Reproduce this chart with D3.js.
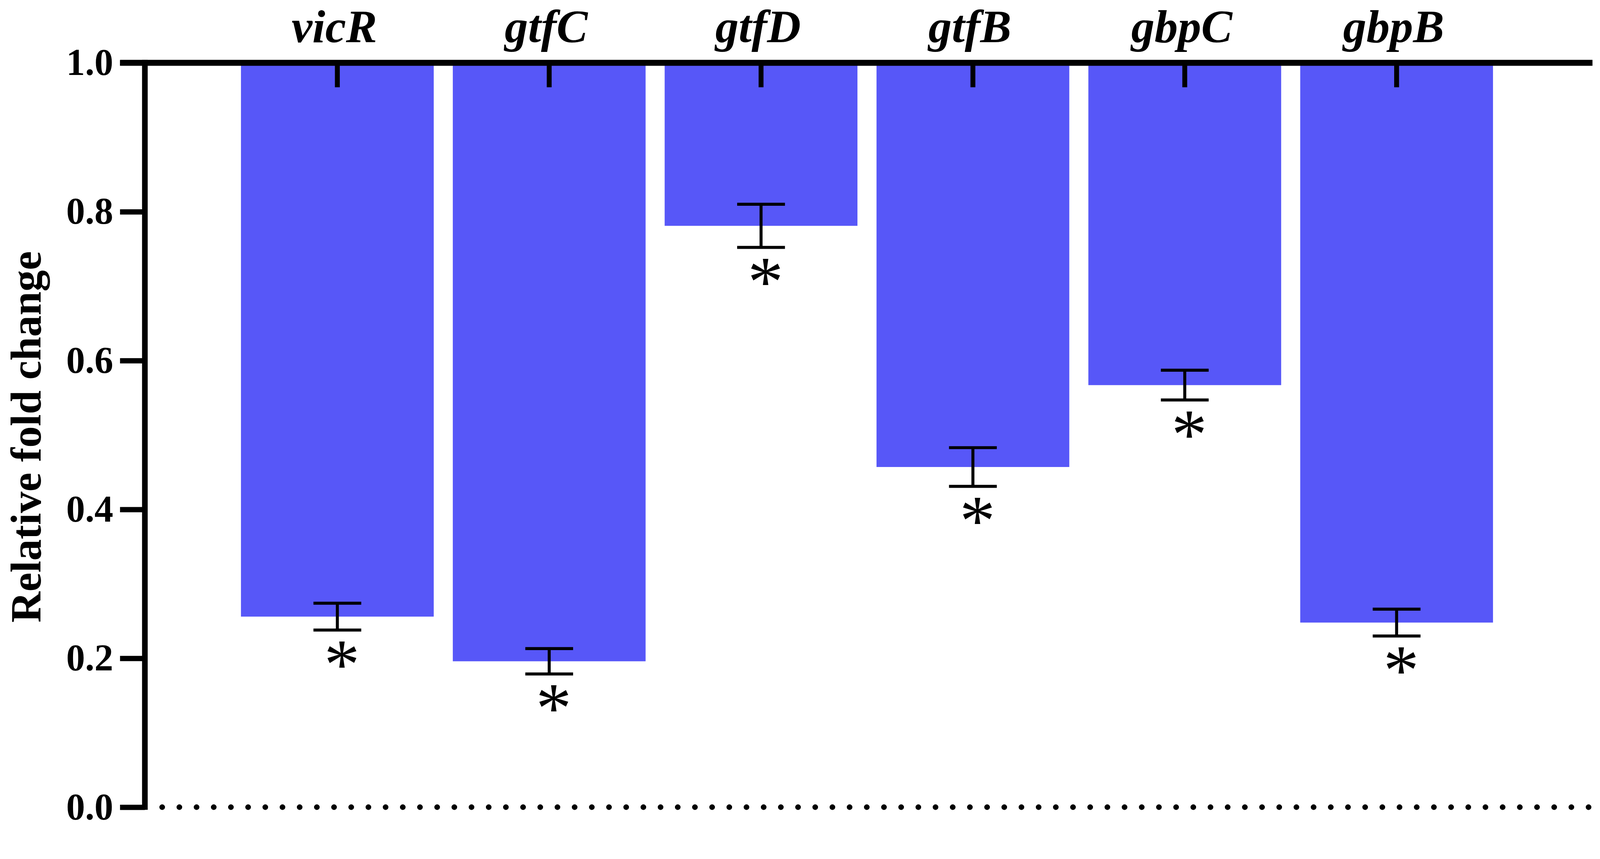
<!DOCTYPE html>
<html>
<head>
<meta charset="utf-8">
<script src="https://cdn.jsdelivr.net/npm/d3@7"></script>
<style>
  html, body { margin: 0; padding: 0; background: #fff; overflow: hidden; }
  svg { display: block; width: 100vw; height: 100vh; }
</style>
</head>
<body>
<script>
// values
const genes = ["vicR", "gtfC", "gtfD", "gtfB", "gbpC", "gbpB"];
const means = [0.256, 0.196, 0.781, 0.457, 0.567, 0.248];
const errs = [0.018, 0.017, 0.029, 0.026, 0.020, 0.018];
const signif = ["*", "*", "*", "*", "*", "*"];
const yTicks = [0.0, 0.2, 0.4, 0.6, 0.8, 1.0];
const yTitle = "Relative fold change";

const width = 4252, height = 2200;
const barColor = "#5757f8";
const serif = "'Liberation Serif', 'Times New Roman', serif";

// drawn in a fixed 4252x2200 box, scaled to the viewport and pinned top-left
const svg = d3.select("body").append("svg")
    .attr("viewBox", `0 0 ${width} ${height}`)
    .attr("preserveAspectRatio", "xMinYMin meet");

const y = d3.scaleLinear().domain([0, 1]).range([2146, 167]);
const x = d3.scaleBand()
    .domain(genes)
    .range([615, 3993])
    .paddingInner(0.09)
    .paddingOuter(0.045);

const axisX = 385;
const data = genes.map((g, i) => ({ gene: g, mean: means[i], err: errs[i], mark: signif[i] }));
const cx = d => x(d.gene) + x.bandwidth() / 2;

// bars hang down from the 1.0 baseline
svg.append("g")
    .selectAll("rect")
    .data(data)
    .join("rect")
    .attr("x", d => x(d.gene))
    .attr("y", y(1))
    .attr("width", x.bandwidth())
    .attr("height", d => y(d.mean) - y(1))
    .attr("fill", barColor);

// dotted line at 0
svg.append("line")
    .attr("x1", axisX + 46)
    .attr("x2", 4222)
    .attr("y1", y(0))
    .attr("y2", y(0))
    .attr("stroke", "#000")
    .attr("stroke-width", 15)
    .attr("stroke-linecap", "round")
    .attr("stroke-dasharray", "0,45.67");

// error bars
const capW = 127;
const eb = svg.append("g").attr("stroke", "#000").attr("stroke-width", 8);
eb.selectAll("line.v")
    .data(data)
    .join("line")
    .attr("class", "v")
    .attr("x1", cx)
    .attr("x2", cx)
    .attr("y1", d => y(d.mean + d.err))
    .attr("y2", d => y(d.mean - d.err));
eb.selectAll("line.top")
    .data(data)
    .join("line")
    .attr("class", "top")
    .attr("x1", d => cx(d) - capW / 2)
    .attr("x2", d => cx(d) + capW / 2)
    .attr("y1", d => y(d.mean + d.err))
    .attr("y2", d => y(d.mean + d.err));
eb.selectAll("line.bot")
    .data(data)
    .join("line")
    .attr("class", "bot")
    .attr("x1", d => cx(d) - capW / 2)
    .attr("x2", d => cx(d) + capW / 2)
    .attr("y1", d => y(d.mean - d.err))
    .attr("y2", d => y(d.mean - d.err));

// significance stars
svg.append("g")
    .selectAll("text")
    .data(data)
    .join("text")
    .attr("x", d => cx(d) + 12)
    .attr("y", d => y(d.mean - d.err) + 155)
    .attr("text-anchor", "middle")
    .style("font-family", serif)
    .style("font-size", "190px")
    .text(d => d.mark);

// y axis
const gy = svg.append("g")
    .attr("transform", `translate(${axisX},0)`)
    .call(d3.axisLeft(y)
        .tickValues(yTicks)
        .tickFormat(d3.format(".1f"))
        .tickSize(66)
        .tickSizeOuter(0)
        .tickPadding(18));
gy.select(".domain").remove();
gy.selectAll(".tick line").attr("stroke", "#000").attr("stroke-width", 14);
gy.selectAll(".tick text")
    .attr("fill", "#000")
    .style("font-family", serif)
    .style("font-weight", "bold")
    .style("font-size", "100px");
gy.append("line")
    .attr("x1", 0).attr("x2", 0)
    .attr("y1", y(1) - 8)
    .attr("y2", y(0) + 7)
    .attr("stroke", "#000")
    .attr("stroke-width", 15);

// x axis along the top (value 1.0), ticks pointing down
const gx = svg.append("g")
    .attr("transform", `translate(0,${y(1)})`)
    .call(d3.axisTop(x)
        .tickSize(-65)
        .tickSizeOuter(0)
        .tickPadding(55));
gx.select(".domain").remove();
gx.selectAll(".tick line").attr("stroke", "#000").attr("stroke-width", 13);
gx.selectAll(".tick text")
    .attr("fill", "#000")
    .attr("dx", -8)
    .style("font-family", serif)
    .style("font-weight", "bold")
    .style("font-style", "italic")
    .style("font-size", "124px");
gx.append("line")
    .attr("x1", axisX - 66)
    .attr("x2", 4232)
    .attr("y1", 0).attr("y2", 0)
    .attr("stroke", "#000")
    .attr("stroke-width", 16);

// y title
svg.append("text")
    .attr("transform", `translate(108,${(y(0) + y(1)) / 2 + 5}) rotate(-90)`)
    .attr("text-anchor", "middle")
    .style("font-family", serif)
    .style("font-weight", "bold")
    .style("font-size", "114px")
    .text(yTitle);
</script>
</body>
</html>
